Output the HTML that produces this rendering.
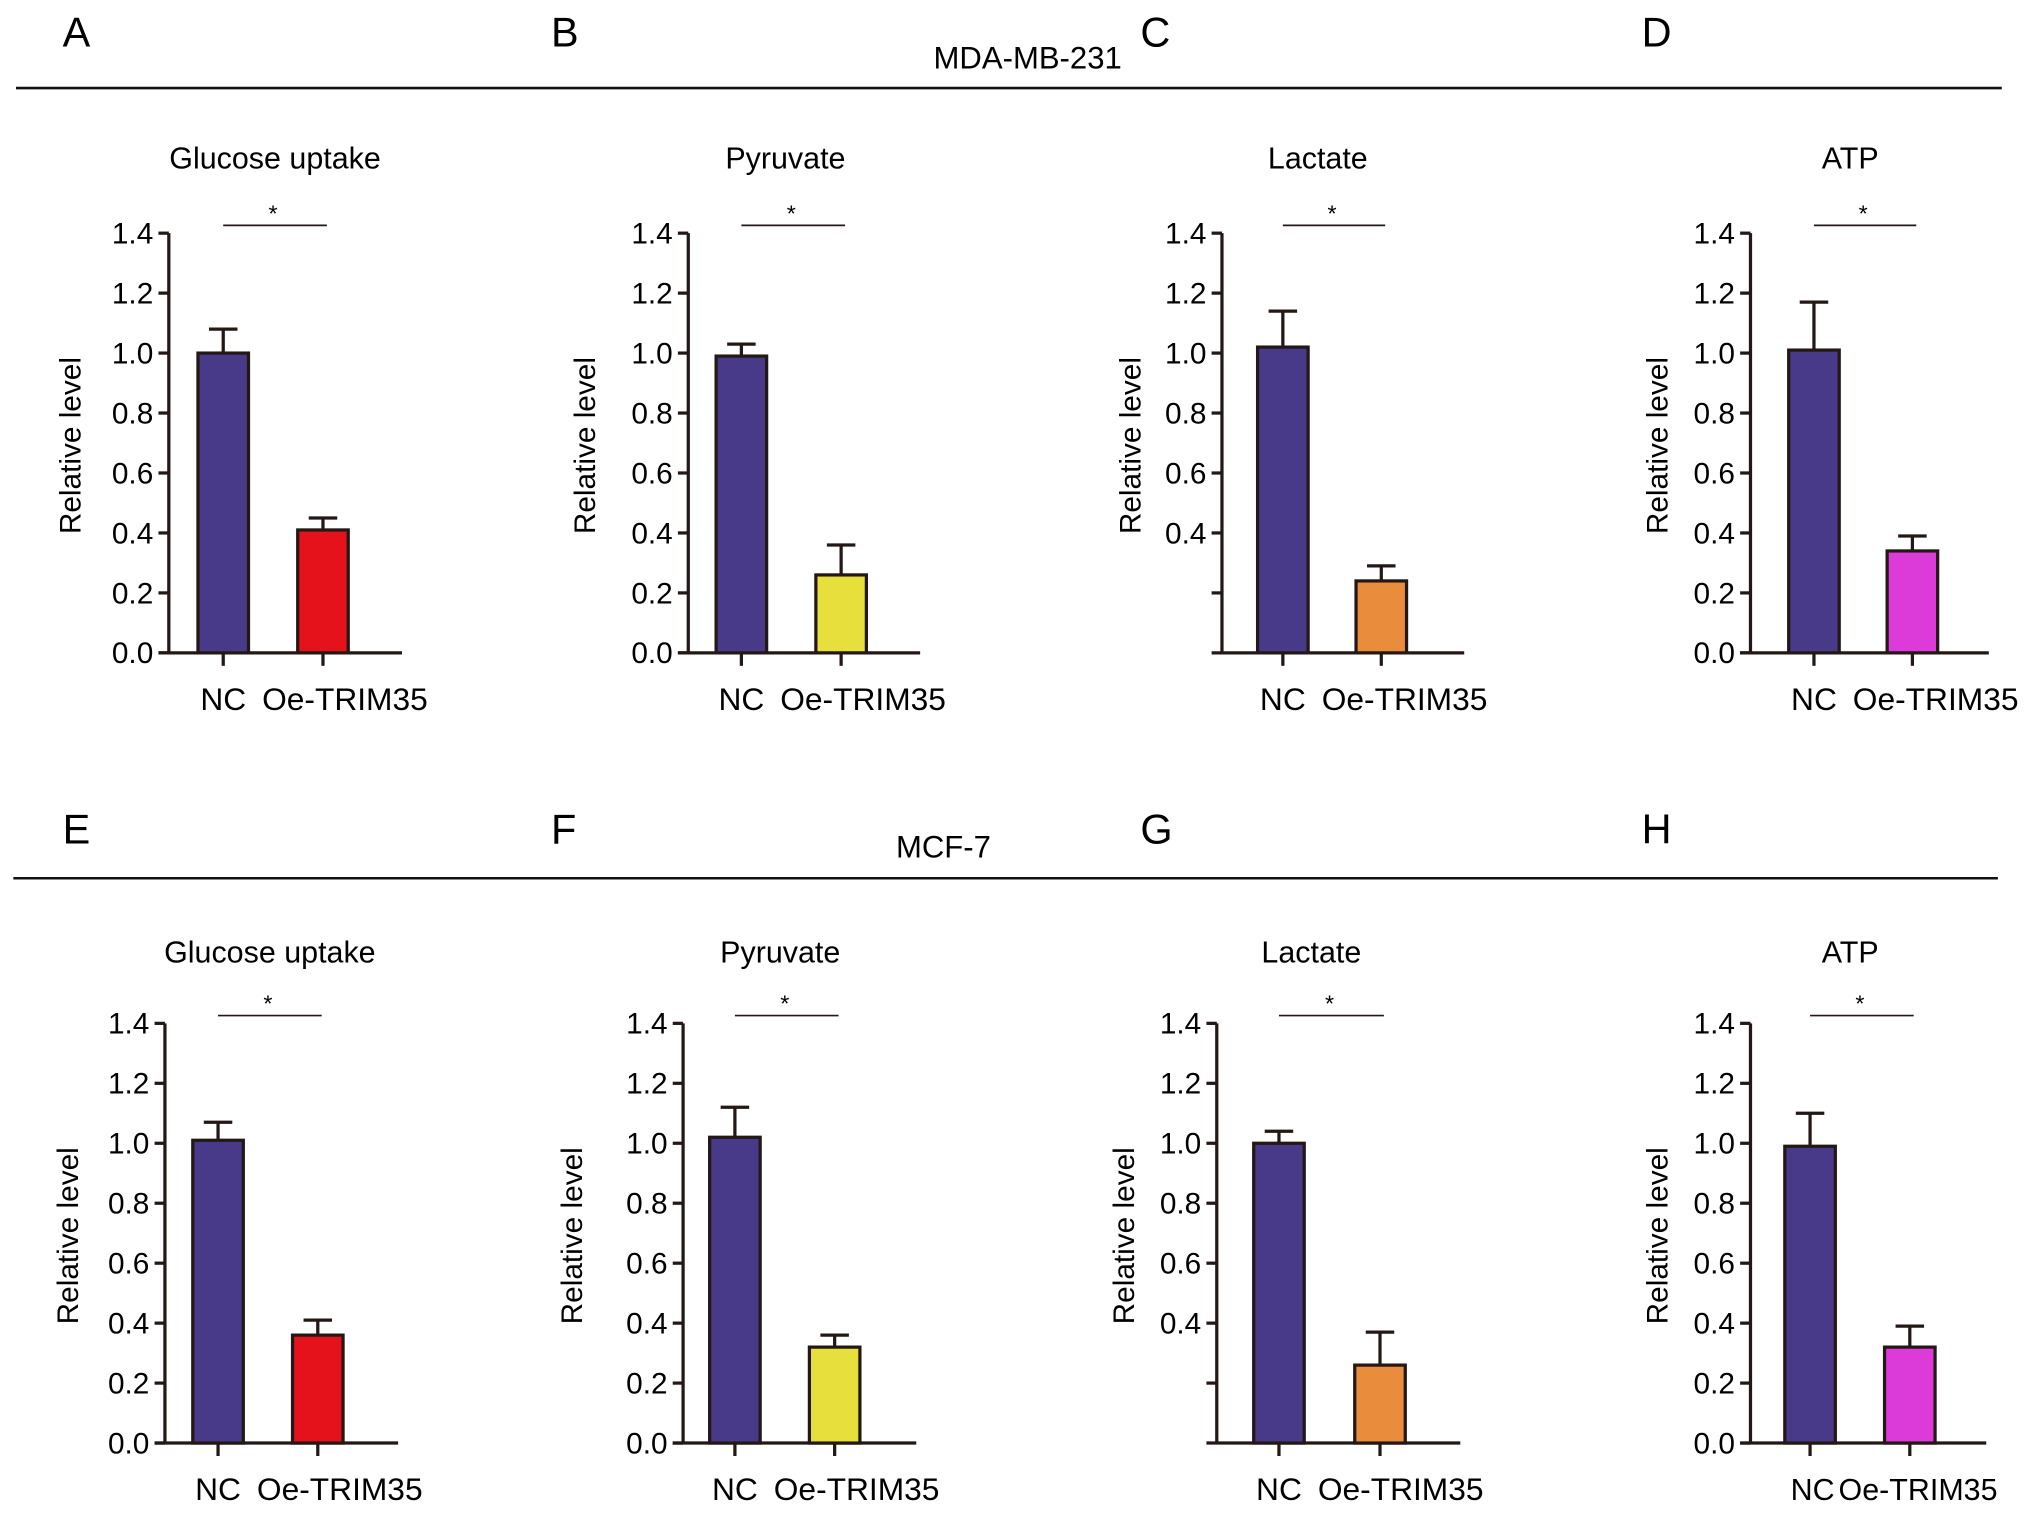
<!DOCTYPE html>
<html><head><meta charset="utf-8"><style>
html,body{margin:0;padding:0;background:#fff;}
svg{display:block;font-family:"Liberation Sans",Arial,sans-serif;}
</style></head><body>
<svg id="fig" width="2032" height="1513" viewBox="0 0 1568 1168" xmlns="http://www.w3.org/2000/svg">
<g>
<text x="48" y="36" font-size="32">A</text>
<text x="425" y="36" font-size="32">B</text>
<text x="880" y="36" font-size="32">C</text>
<text x="1267" y="36" font-size="32">D</text>
<text x="793" y="53" font-size="24" text-anchor="middle">MDA-MB-231</text>
<line x1="12" y1="68" x2="1545" y2="68" stroke="#111" stroke-width="2"/>
</g>
<g>
<text x="48" y="651" font-size="32">E</text>
<text x="425" y="651" font-size="32">F</text>
<text x="880" y="651" font-size="32">G</text>
<text x="1267" y="651" font-size="32">H</text>
<text x="728" y="662" font-size="24" text-anchor="middle">MCF-7</text>
<line x1="10" y1="678" x2="1542" y2="678" stroke="#111" stroke-width="2"/>
</g>
</svg>
<script>
const categories = ["NC", "Oe-TRIM35"];
const titles = ["Glucose uptake","Pyruvate","Lactate","ATP","Glucose uptake","Pyruvate","Lactate","ATP"];
const ncMeans = [1.00, 0.99, 1.02, 1.01, 1.01, 1.02, 1.00, 0.99];
const ncErrTop = [1.08, 1.03, 1.14, 1.17, 1.07, 1.12, 1.04, 1.10];
const oeMeans = [0.41, 0.26, 0.24, 0.34, 0.36, 0.32, 0.26, 0.32];
const oeErrTop = [0.45, 0.36, 0.29, 0.39, 0.41, 0.36, 0.37, 0.39];
const tickValues = [0.0, 0.2, 0.4, 0.6, 0.8, 1.0, 1.2, 1.4];
const tickLabels = ["0.0","0.2","0.4","0.6","0.8","1.0","1.2","1.4"];

const oeColors = ["#e5121b","#e6df3c","#e98c3b","#dd3bd9","#e5121b","#e6df3c","#e98c3b","#dd3bd9"];
const layout = [
 {ax:130,c1:172,c2:249,top:180,bot:504,tc:212,ty:130,xend:310,lab:55},
 {ax:531,c1:572,c2:649,top:180,bot:504,tc:606,ty:130,xend:710,lab:452},
 {ax:943,c1:990,c2:1066,top:180,bot:504,tc:1017,ty:130,xend:1130,lab:873,lactate:true},
 {ax:1351,c1:1400,c2:1476,top:180,bot:504,tc:1428,ty:130,xend:1535,lab:1280},
 {ax:127,c1:168,c2:245,top:790,bot:1114,tc:208,ty:743,xend:307,lab:53},
 {ax:527,c1:567,c2:644,top:790,bot:1114,tc:602,ty:743,xend:707,lab:442},
 {ax:939,c1:987,c2:1065,top:790,bot:1114,tc:1012,ty:743,xend:1127,lab:868,lactate:true},
 {ax:1351,c1:1397,c2:1474,top:790,bot:1114,tc:1428,ty:743,xend:1533,lab:1280,tight:true}
];
const NS="http://www.w3.org/2000/svg";
const svg=document.getElementById('fig');
function mk(tag,attrs,parent){const e=document.createElementNS(NS,tag);for(const k in attrs)e.setAttribute(k,attrs[k]);parent.appendChild(e);return e;}
const INK="#231815";
layout.forEach((L,i)=>{
  const g=mk('g',{},svg);
  
  
  const y=v=>L.bot-(v/1.4)*(L.bot-L.top);
  const t=mk('text',{x:L.tc,y:L.ty,'font-size':23.5,'text-anchor':'middle'},g);t.textContent=titles[i];
  
  
  const ya=mk('line',{x1:L.ax,y1:L.top,x2:L.ax,y2:L.bot,stroke:INK,'stroke-width':2.5},g);
  
  
  const xa=mk('line',{x1:L.ax-8,y1:L.bot,x2:L.xend,y2:L.bot,stroke:INK,'stroke-width':2.5},g);
  
  
  tickValues.forEach((v,k)=>{
    if(L.lactate && v===0) return;
    const tk=mk('line',{x1:L.ax-8,y1:y(v),x2:L.ax,y2:y(v),stroke:INK,'stroke-width':2.5},g);
    
    
    if(L.lactate && v<0.3) return;
    const tl=mk('text',{x:L.ax-12,y:y(v)+8,'font-size':23,'text-anchor':'end'},g);tl.textContent=tickLabels[k];
    
    
  });
  const yl=mk('text',{x:0,y:0,'font-size':23,'text-anchor':'middle',transform:`translate(${L.lab+7},${(L.top+L.bot)/2+2}) rotate(-90)`},g);
  yl.textContent='Relative level';
  
  
  const bw=39;
  const bars=[[L.c1,ncMeans[i],ncErrTop[i],'#483a88'],[L.c2,oeMeans[i],oeErrTop[i],oeColors[i]]];
  bars.forEach((b,j)=>{
    const [cx,v,e,col]=b;
    const el=mk('line',{x1:cx,y1:y(v),x2:cx,y2:y(e),stroke:INK,'stroke-width':2.5},g);
    
    
    const ec=mk('line',{x1:cx-11,y1:y(e),x2:cx+11,y2:y(e),stroke:INK,'stroke-width':2.5},g);
    
    
    const r=mk('rect',{x:cx-bw/2,y:y(v),width:bw,height:L.bot-y(v),fill:col,stroke:INK,'stroke-width':2.5},g);
    
    
    const xt=mk('line',{x1:cx,y1:L.bot,x2:cx,y2:L.bot+10,stroke:INK,'stroke-width':2.5},g);
    
    
  });
  const fs=L.tight?23.5:24.5;
  const l1=mk('text',{x:L.c1+(L.tight?2:0),y:L.bot+44,'font-size':fs,'text-anchor':'middle'},g);l1.textContent=categories[0];
  
  
  const l2=mk('text',{x:L.c1+(L.tight?22:30),y:L.bot+44,'font-size':fs,'text-anchor':'start'},g);l2.textContent=categories[1];
  
  
  const sy=L.top-6;
  const sl=mk('line',{x1:L.c1,y1:sy,x2:L.c2+3,y2:sy,stroke:INK,'stroke-width':1.3},g);
  
  
  const st=mk('text',{x:(L.c1+L.c2)/2,y:sy-3,'font-size':18,'text-anchor':'middle'},g);st.textContent='*';
  
  
});
</script>
</body></html>
